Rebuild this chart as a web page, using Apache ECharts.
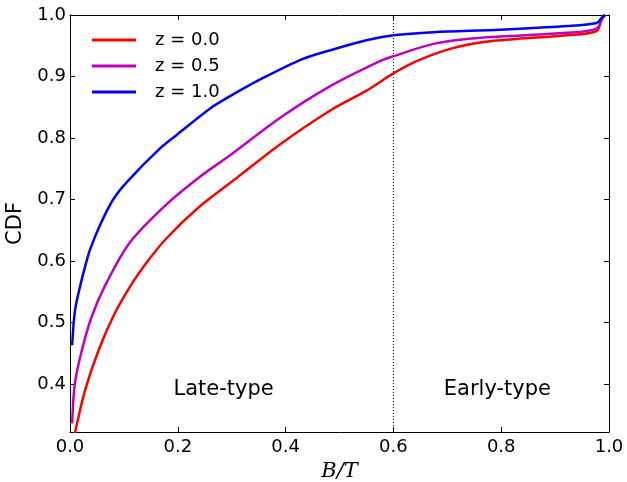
<!DOCTYPE html>
<html>
<head>
<meta charset="utf-8">
<script src="https://cdn.jsdelivr.net/npm/echarts@6/dist/echarts.min.js"></script>
<style>html,body{margin:0;padding:0;background:#fff;}#c{width:627px;height:482px;}</style>
</head>
<body>
<div id="c"></div>
<script>
const xTicks = [0.0, 0.2, 0.4, 0.6, 0.8, 1.0];
const yTicks = [0.4, 0.5, 0.6, 0.7, 0.8, 0.9, 1.0];
const seriesNames = ['z = 0.0', 'z = 0.5', 'z = 1.0'];

const btZ00 = [0.009,0.028,0.053,0.083,0.114,0.139,0.179,0.241,0.312,0.390,0.485,0.550,0.600,0.643,0.705,0.767,0.829,0.922,0.977,0.986,0.992];
const cdfZ00 = [0.320,0.390,0.455,0.515,0.562,0.594,0.637,0.689,0.737,0.790,0.846,0.877,0.905,0.925,0.945,0.956,0.961,0.967,0.974,0.993,1.0];

const btZ05 = [0.004,0.009,0.022,0.040,0.065,0.111,0.179,0.241,0.297,0.390,0.482,0.575,0.600,0.674,0.736,0.798,0.922,0.977,0.988,0.993];
const cdfZ05 = [0.336,0.401,0.455,0.509,0.560,0.630,0.692,0.737,0.772,0.833,0.884,0.925,0.933,0.953,0.961,0.965,0.971,0.978,0.995,1.0];

const btZ10 = [0.004,0.009,0.019,0.028,0.037,0.056,0.080,0.105,0.167,0.198,0.260,0.297,0.359,0.430,0.488,0.550,0.600,0.674,0.798,0.922,0.977,0.986,0.992];
const cdfZ10 = [0.463,0.518,0.560,0.591,0.618,0.659,0.700,0.728,0.783,0.805,0.848,0.868,0.898,0.928,0.944,0.959,0.967,0.972,0.976,0.982,0.987,0.995,1.0];

const divider = 0.6;
const yMin = 0.322, yMax = 1.0;
const regionLabels = ['Late-type', 'Early-type'];
const regionX = [0.285, 0.793];
const regionY = [0.391, 0.391];

const colors = ['#ff0000', '#bf00bf', '#0000ff'];
const zip = (xs, ys) => xs.map((x, i) => [x, ys[i]]);
const curves = [zip(btZ00, cdfZ00), zip(btZ05, cdfZ05), zip(btZ10, cdfZ10)];

const chart = echarts.init(document.getElementById('c'), null, {renderer: 'canvas'});
const font = 'DejaVu Sans';
const axisCommon = {
  axisLine: {show: true, onZero: false, lineStyle: {color: '#000', width: 1}},
  axisTick: {show: true, inside: true, length: 5, lineStyle: {color: '#000', width: 1}},
  splitLine: {show: false}
};
const option = {
  backgroundColor: '#fff',
  animation: false,
  grid: {left: 70, right: 18, top: 15, bottom: 50, containLabel: false, outerBoundsMode: 'none'},
  legend: {
    orient: 'vertical', left: 92, top: 31, padding: 0, itemWidth: 44, itemHeight: 3, itemGap: 8,
    icon: 'rect', data: seriesNames,
    textStyle: {fontFamily: font, fontSize: 18, lineHeight: 18, color: '#000', padding: [0, 0, 0, 14]}
  },
  xAxis: [
    Object.assign({type: 'value', min: 0, max: 1, interval: 0.2, position: 'bottom',
      name: 'B/T', nameLocation: 'middle', nameGap: 28,
      nameTextStyle: {fontFamily: 'DejaVu Serif', fontStyle: 'italic', fontSize: 21, color: '#000'},
      axisLabel: {fontFamily: font, fontSize: 18, color: '#000', margin: 6,
        formatter: v => v.toFixed(1)}}, axisCommon),
    Object.assign({type: 'value', min: 0, max: 1, interval: 0.2, position: 'top',
      axisLabel: {show: false}}, axisCommon)
  ],
  yAxis: [
    Object.assign({type: 'value', min: yMin, max: yMax, splitNumber: 7, position: 'left',
      name: 'CDF', nameLocation: 'middle', nameGap: 43, nameRotate: 90,
      nameTextStyle: {fontFamily: font, fontSize: 21, color: '#000'},
      axisLabel: {fontFamily: font, fontSize: 18, color: '#000', margin: 4, showMinLabel: false,
        formatter: v => (yTicks.some(t => Math.abs(t - v) < 1e-6) ? v.toFixed(1) : '')}}, axisCommon),
    Object.assign({type: 'value', min: yMin, max: yMax, splitNumber: 7, position: 'right',
      axisLabel: {show: false}}, axisCommon)
  ],
  series: [
    ...curves.map((d, i) => ({
      name: seriesNames[i], type: 'line', data: d, smooth: 0.3, symbol: 'none',
      clip: true, color: colors[i],
      lineStyle: {color: colors[i], width: 2.5}
    })),
    {
      type: 'line', data: [[divider, yMin], [divider, yMax]], symbol: 'none', silent: true,
      lineStyle: {color: '#000', width: 1, type: [1, 2]}
    },
    {
      type: 'scatter', symbolSize: 0, silent: true, itemStyle: {opacity: 1},
      data: regionLabels.map((t, i) => ({value: [regionX[i], regionY[i]], name: t})),
      label: {show: true, position: 'inside', formatter: p => p.name, opacity: 1,
        fontFamily: font, fontSize: 21, color: '#000'}
    }
  ]
};
chart.setOption(option);
</script>
</body>
</html>
